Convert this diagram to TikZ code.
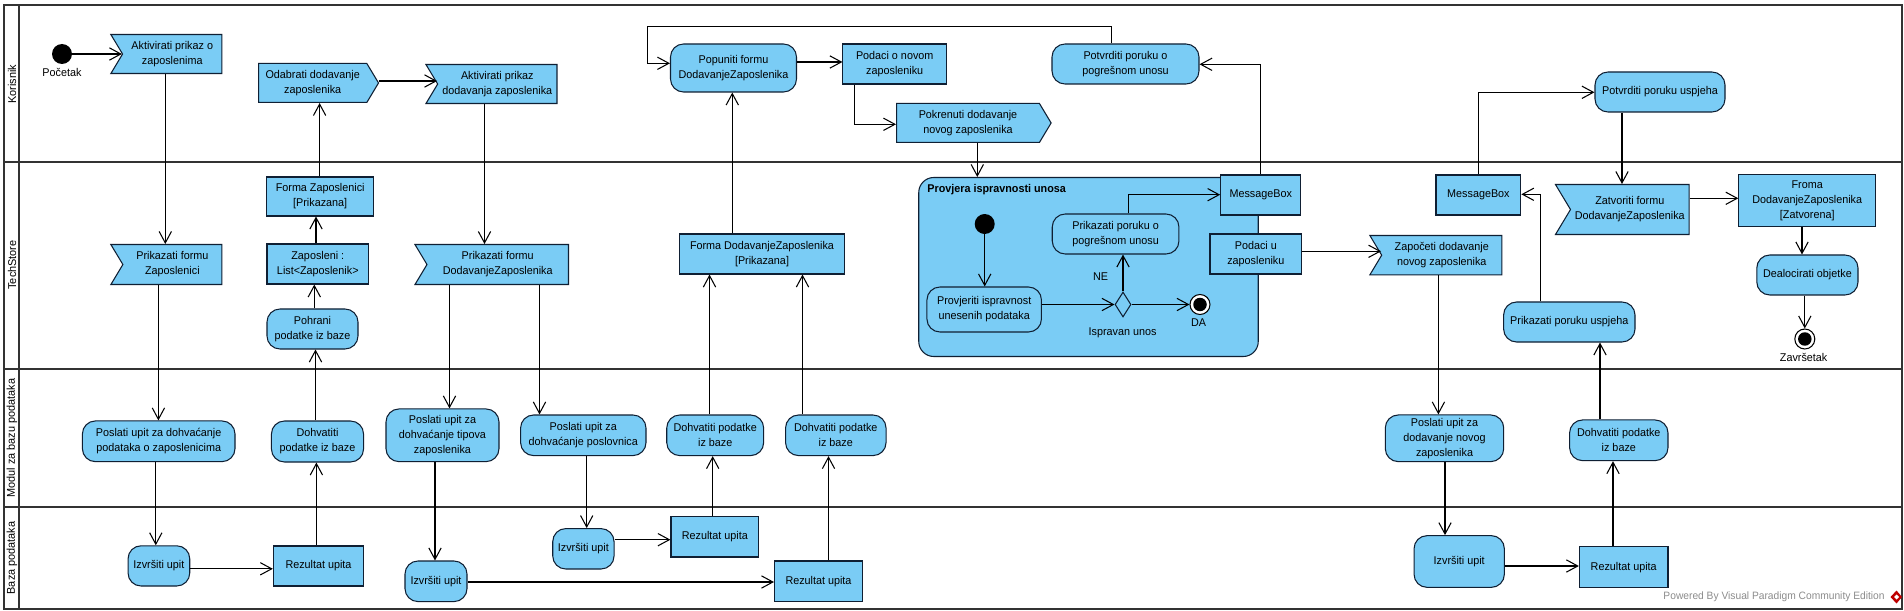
\documentclass[tikz,border=0pt]{standalone}
\usepackage{fontspec}
\setmainfont{Liberation Sans}[FakeStretch=0.96]
\usetikzlibrary{arrows.meta,shapes.geometric,shapes.symbols}
\definecolor{actblue}{HTML}{7ACCF5}
\definecolor{lineblue}{HTML}{0F1F33}
\tikzset{
	sz/.style 2 args={minimum width=#1*0.02cm,minimum height=#2*0.02cm},
	base/.style={draw=lineblue,fill=actblue,line width=0.6pt,inner sep=0pt,align=center,font=\fontsize{6.4}{8.6}\selectfont},
	objbox/.style={base,rectangle},
	actbox/.style={base,rectangle,rounded corners=0.26cm},
	recvbox/.style={base,signal,signal to=nowhere,signal from=west,signal pointer angle=118,anchor=south east},
	sendbox/.style={base,signal,signal to=east,signal pointer angle=118,anchor=south west},
	blackdot/.style={circle,fill=black,inner sep=0pt,minimum size=0.4cm},
	enddot/.style={circle,draw=black,fill=white,line width=0.6pt,inner sep=0pt,minimum size=0.4cm},
	txt/.style={inner sep=0pt,font=\fontsize{6.4}{8.6}\selectfont},
	lane/.style={inner sep=0pt,rotate=90,font=\fontsize{6.45}{8.6}\selectfont},
	flow/.style={line width=0.6pt,-{Straight Barb[length=6.5pt,width=7pt]}},
	lanerule/.style={draw=black!80,line width=1.4pt}
}
\begin{document}
\begin{tikzpicture}[x=0.02cm,y=-0.02cm]
	\useasboundingbox (0,0) rectangle (1904,611);
	\fill[white] (0,0) rectangle (1904,611);

	% lanes
	\draw[lanerule] (4,5) rectangle (1902,609);
	\draw[lanerule] (19,5) -- (19,609);
	\draw[lanerule] (4,162) -- (1902,162);
	\draw[lanerule] (4,369) -- (1902,369);
	\draw[lanerule] (4,507) -- (1902,507);
	\node[lane] (laneKor) at (12,84) {Korisnik};
	\node[lane] (laneTech) at (12,265) {TechStore};
	\node[lane] (laneMod) at (12,438) {Modul za bazu podataka};
	\node[lane] (laneBaza) at (12,558) {Baza podataka};

	% group
	\node[actbox,rounded corners=0.3cm,sz={339.5}{179}] (provjera) at (1088.5,267) {};
	\node[txt,anchor=west,font=\fontsize{6.4}{8.6}\selectfont\bfseries] (provjeraNaslov) at (927,190) {Provjera ispravnosti unosa};

	% korisnik
	\node[blackdot] (pocetak) at (62,54) {};
	\node[txt] (pocetakTxt) at (62,72) {Početak};
	\node[recvbox,sz={111}{39}] (aktPrikaz) at (222.4,73) {Aktivirati prikaz o\\zaposlenima};
	\node[sendbox,sz={120}{39}] (odabrati) at (258,103) {Odabrati dodavanje\\zaposlenika};
	\node[recvbox,sz={131}{39}] (aktDodavanje) at (557.5,103) {Aktivirati prikaz\\dodavanja zaposlenika};
	\node[actbox,sz={126}{48}] (popuniti) at (733.5,68) {Popuniti formu\\DodavanjeZaposlenika};
	\node[objbox,sz={103.5}{40}] (podaciNovi) at (894.7,64) {Podaci o novom\\zaposleniku};
	\node[sendbox,sz={154.6}{39}] (pokrenuti) at (896,143) {Pokrenuti dodavanje\\novog zaposlenika};
	\node[actbox,sz={147}{40}] (potvrditiPog) at (1125.5,64) {Potvrditi poruku o\\pogrešnom unosu};
	\node[actbox,sz={130}{40}] (potvrditiUsp) at (1660,92) {Potvrditi poruku uspjeha};

	% techstore
	\node[recvbox,sz={111}{40}] (prikZap) at (222.4,284) {Prikazati formu\\Zaposlenici};
	\node[objbox,sz={106.5}{39}] (formaZap) at (320.2,196.5) {Forma Zaposlenici\\{[Prikazana]}};
	\node[objbox,sz={101.6}{40}] (listaZap) at (317.8,264) {Zaposleni :\\List<Zaposlenik>};
	\node[actbox,sz={91}{40}] (pohrani) at (312.5,329) {Pohrani\\podatke iz baze};
	\node[recvbox,sz={153.5}{40}] (prikDod) at (569,284) {Prikazati formu\\DodavanjeZaposlenika};
	\node[objbox,sz={165.2}{40}] (formaDod) at (762,254) {Forma DodavanjeZaposlenika\\{[Prikazana]}};
	\node[blackdot] (unutarStart) at (984.7,224) {};
	\node[actbox,sz={114.5}{45}] (provjeriti) at (984.2,309.5) {Provjeriti ispravnost\\unesenih podataka};
	\node[actbox,sz={126.7}{40}] (prikPog) at (1115.6,234) {Prikazati poruku o\\pogrešnom unosu};
	\node[base,diamond,shape aspect=0.67,sz={16}{25}] (odluka) at (1123,304.5) {};
	\node[enddot] (unutarKraj) at (1200,304.5) {};
	\node[blackdot,minimum size=0.27cm] (unutarKrajIn) at (1200,304.5) {};
	\node[txt] (txtDa) at (1198.5,323) {DA};
	\node[txt] (txtIspravan) at (1122.6,333) {Ispravan unos};
	\node[txt] (txtNe) at (1100.5,277) {NE};
	\node[objbox,sz={80}{40}] (msgA) at (1260.7,195) {MessageBox};
	\node[objbox,sz={91.6}{40}] (podaciU) at (1255.8,254) {Podaci u\\zaposleniku};
	\node[recvbox,sz={132}{39.3}] (zapoceti) at (1502.4,274.3) {Započeti dodavanje\\novog zaposlenika};
	\node[objbox,sz={84.8}{40}] (msgB) at (1478.4,195) {MessageBox};
	\node[recvbox,sz={133.6}{50}] (zatvoriti) at (1689.6,234) {Zatvoriti formu\\DodavanjeZaposlenika};
	\node[objbox,sz={136.8}{51.7}] (froma) at (1807.2,200.8) {Froma\\DodavanjeZaposlenika\\{[Zatvorena]}};
	\node[actbox,sz={101.2}{40}] (dealocirati) at (1807.4,275) {Dealocirati objetke};
	\node[actbox,sz={131.4}{40}] (prikUsp) at (1569.3,322) {Prikazati poruku uspjeha};
	\node[enddot] (kraj) at (1804.8,339) {};
	\node[blackdot,minimum size=0.27cm] (krajIn) at (1804.8,339) {};
	\node[txt] (krajTxt) at (1803.6,357) {Završetak};

	% modul
	\node[actbox,sz={152.6}{40.7}] (upitZap) at (158.7,441.3) {Poslati upit za dohvaćanje\\podataka o zaposlenicima};
	\node[actbox,sz={92.1}{41}] (dohvA) at (317.5,441.5) {Dohvatiti\\podatke iz baze};
	\node[actbox,sz={113}{52.7}] (upitTip) at (442.5,435.3) {Poslati upit za\\dohvaćanje tipova\\zaposlenika};
	\node[actbox,sz={125.4}{40.6}] (upitPos) at (583.3,435.3) {Poslati upit za\\dohvaćanje poslovnica};
	\node[actbox,sz={96.9}{40.6}] (dohvB) at (715.2,435.3) {Dohvatiti podatke\\iz baze};
	\node[actbox,sz={100.5}{40.6}] (dohvC) at (835.8,435.3) {Dohvatiti podatke\\iz baze};
	\node[actbox,sz={118.4}{46.7}] (upitNovi) at (1444.5,438.3) {Poslati upit za\\dodavanje novog\\zaposlenika};
	\node[actbox,sz={98.4}{40.7}] (dohvD) at (1618.8,440.3) {Dohvatiti podatke\\iz baze};

	% baza
	\node[actbox,sz={61.7}{40.2}] (izvrsA) at (158.9,565.9) {Izvršiti upit};
	\node[objbox,sz={90.3}{40}] (rezA) at (318.5,566) {Rezultat upita};
	\node[actbox,sz={62}{40.6}] (izvrsB) at (436,581.3) {Izvršiti upit};
	\node[objbox,sz={87.9}{40.6}] (rezB) at (818.5,581.3) {Rezultat upita};
	\node[actbox,sz={61.3}{40.4}] (izvrsC) at (583.4,548.8) {Izvršiti upit};
	\node[objbox,sz={87.8}{40.6}] (rezC) at (714.9,536.7) {Rezultat upita};
	\node[actbox,sz={90.3}{51.7}] (izvrsD) at (1459.2,561.5) {Izvršiti upit};
	\node[objbox,sz={88.6}{40.6}] (rezD) at (1623.7,567.1) {Rezultat upita};

	% watermark
	\node[txt,anchor=east,text=black!45,font=\fontsize{6.07}{8}\selectfont] (vpTxt) at (1885,597) {Powered By Visual Paradigm Community Edition};
	\fill[red!75!black] (1896.5,590.5) -- (1902,597) -- (1896.5,603.5) -- (1890.5,597) -- cycle;
	\fill[white] (1896.5,594.5) -- (1899,597) -- (1896.5,599.5) -- (1894,597) -- cycle;

	% flows korisnik
	\draw[flow] (pocetak) -- (aktPrikaz.west |- pocetak);
	\draw[flow] (aktPrikaz.south -| 165.3,0) -- (prikZap.north -| 165.3,0);
	\draw[flow] (formaZap.north -| 319.6,0) -- (odabrati.south -| 319.6,0);
	\draw[flow] (odabrati.east |- 0,81) -- (aktDodavanje.west |- 0,81);
	\draw[flow] (aktDodavanje.south -| 484.5,0) -- (prikDod.north -| 484.5,0);
	\draw[flow] (popuniti.east |- 0,62) -- (podaciNovi.west |- 0,62);
	\draw[flow] (podaciNovi.south -| 854.6,0) -- (854.6,124.3) -- (pokrenuti.west |- 0,124.3);
	\draw[flow] (pokrenuti.south -| 977.3,0) -- (provjera.north -| 977.3,0);
	\draw[flow] (potvrditiPog.north -| 1111.3,0) -- (1111.3,26.3) -- (647.3,26.3) -- (647.3,63.3) -- (popuniti.west |- 0,63.3);

	% flows techstore
	\draw[flow] (listaZap.north -| 316,0) -- (formaZap.south -| 316,0);
	\draw[flow] (pohrani.north -| 314.3,0) -- (listaZap.south -| 314.3,0);
	\draw[flow] (formaDod.north -| 732.3,0) -- (popuniti.south -| 732.3,0);
	\draw[flow] (unutarStart.south) -- (provjeriti.north -| unutarStart);
	\draw[flow] (provjeriti.east |- odluka) -- (odluka.west);
	\draw[flow] (odluka.east) -- (unutarKraj.west);
	\draw[flow] (odluka.north) -- (prikPog.south -| odluka);
	\draw[flow] (prikPog.north -| 1128.2,0) -- (1128.2,194.7) -- (msgA.west |- 0,194.7);
	\draw[flow] (msgA.north -| 1260.5,0) -- (1260.5,64.3) -- (potvrditiPog.east |- 0,64.3);
	\draw[flow] (podaciU.east |- 0,251.3) -- (zapoceti.west |- 0,251.3);
	\draw[flow] (msgB.north) -- (1478.4,92.3) -- (potvrditiUsp.west |- 0,92.3);
	\draw[flow] (potvrditiUsp.south -| 1622,0) -- (zatvoriti.north -| 1622,0);
	\draw[flow] (zatvoriti.east |- 0,198.3) -- (froma.west |- 0,198.3);
	\draw[flow] (froma.south -| 1802,0) -- (dealocirati.north -| 1802,0);
	\draw[flow] (dealocirati.south -| kraj) -- (kraj.north);
	\draw[flow] (prikUsp.north -| 1540.8,0) -- (1540.8,194.3) -- (msgB.east |- 0,194.3);

	% flows modul i baza
	\draw[flow] (prikZap.south -| 158.4,0) -- (upitZap.north -| 158.4,0);
	\draw[flow] (upitZap.south -| 155.8,0) -- (izvrsA.north -| 155.8,0);
	\draw[flow] (izvrsA.east |- 0,568.8) -- (rezA.west |- 0,568.8);
	\draw[flow] (rezA.north -| 316.4,0) -- (dohvA.south -| 316.4,0);
	\draw[flow] (dohvA.north -| 315.5,0) -- (pohrani.south -| 315.5,0);
	\draw[flow] (prikDod.south -| 449.5,0) -- (upitTip.north -| 449.5,0);
	\draw[flow] (prikDod.south -| 539.5,0) -- (upitPos.north -| 539.5,0);
	\draw[flow] (upitTip.south -| 435,0) -- (izvrsB.north -| 435,0);
	\draw[flow] (izvrsB.east |- 0,582) -- (rezB.west |- 0,582);
	\draw[flow] (upitPos.south -| 586.7,0) -- (izvrsC.north -| 586.7,0);
	\draw[flow] (izvrsC.east |- 0,539.7) -- (rezC.west |- 0,539.7);
	\draw[flow] (rezC.north -| 712.7,0) -- (dohvB.south -| 712.7,0);
	\draw[flow] (rezB.north -| 828.5,0) -- (dohvC.south -| 828.5,0);
	\draw[flow] (dohvB.north -| 709.5,0) -- (formaDod.south -| 709.5,0);
	\draw[flow] (dohvC.north -| 802.5,0) -- (formaDod.south -| 802.5,0);
	\draw[flow] (zapoceti.south -| 1438.4,0) -- (upitNovi.north -| 1438.4,0);
	\draw[flow] (upitNovi.south -| 1445,0) -- (izvrsD.north -| 1445,0);
	\draw[flow] (izvrsD.east |- 0,566) -- (rezD.west |- 0,566);
	\draw[flow] (rezD.north -| 1613,0) -- (dohvD.south -| 1613,0);
	\draw[flow] (dohvD.north -| 1600,0) -- (prikUsp.south -| 1600,0);
\end{tikzpicture}
\end{document}
